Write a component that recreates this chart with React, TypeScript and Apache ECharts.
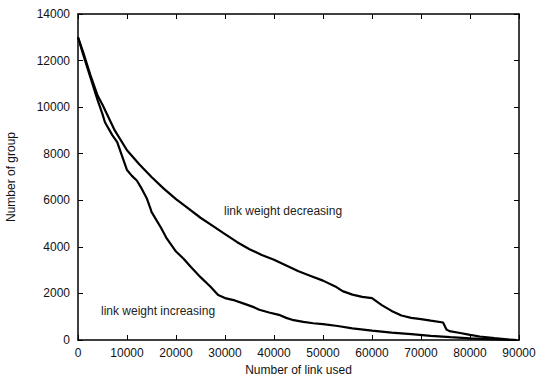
import React, { useEffect, useRef } from "react";
import * as echarts from "echarts";

const xTicks = [0, 10000, 20000, 30000, 40000, 50000, 60000, 70000, 80000, 90000];
const yTicks = [0, 2000, 4000, 6000, 8000, 10000, 12000, 14000];

const decX = [0, 1000, 2500, 4000, 5000, 7500, 10000, 12500, 15000, 17500, 20000, 22500, 25000, 27500, 30000, 32500, 35000, 37500, 40000, 42500, 45000, 47500, 50000, 52500, 54000, 56000, 58000, 60000, 61000, 62000, 64000, 66000, 68000, 70000, 72000, 74500, 75200, 75800, 78000, 80000, 82000, 85000, 88000, 89500];
const decY = [13000, 12400, 11400, 10500, 10100, 9000, 8150, 7550, 7000, 6500, 6050, 5650, 5250, 4900, 4550, 4200, 3900, 3650, 3450, 3200, 2950, 2750, 2550, 2300, 2100, 1950, 1850, 1800, 1650, 1500, 1250, 1050, 950, 900, 830, 750, 450, 380, 300, 220, 150, 80, 20, 0];

const incX = [0, 1000, 2500, 4000, 5000, 5500, 7000, 8000, 9000, 10000, 11000, 12000, 13000, 14000, 14700, 15000, 16000, 17000, 18000, 19000, 20000, 21500, 23000, 25000, 27000, 28600, 30000, 32000, 34000, 36000, 37000, 39000, 41000, 42500, 44000, 46000, 48000, 50000, 53000, 56000, 60000, 64000, 68000, 72000, 76000, 80000, 84000, 87000, 89500];
const incY = [13000, 12300, 11300, 10300, 9700, 9350, 8800, 8500, 7900, 7300, 7050, 6850, 6500, 6100, 5700, 5500, 5150, 4800, 4400, 4100, 3800, 3500, 3150, 2700, 2300, 1930, 1800, 1700, 1550, 1400, 1300, 1180, 1080, 950, 850, 780, 720, 680, 600, 500, 400, 320, 250, 180, 120, 70, 35, 10, 0];

const labelDec = "link weight decreasing";
const labelInc = "link weight increasing";
const xName = "Number of link used";
const yName = "Number of group";

export default function App() {
  const ref = useRef<HTMLDivElement>(null);
  useEffect(() => {
    if (!ref.current) return;
    const chart = echarts.init(ref.current, null, { renderer: "svg" });
    const font = "Liberation Sans, Arial, Helvetica, sans-serif";
    const axisCommon = {
      type: "value" as const,
      axisLine: { show: true, onZero: false, lineStyle: { color: "#000", width: 1.5 } },
      axisTick: { show: true, inside: true, length: 5, lineStyle: { color: "#000", width: 1 } },
      splitLine: { show: false },
    };
    const fmt = (v: number) => String(v);
    chart.setOption({
      animation: false,
      backgroundColor: "#fff",
      grid: { left: 78, top: 14, right: 18, bottom: 37, containLabel: false, outerBoundsMode: "none" },
      xAxis: [
        {
          ...axisCommon,
          position: "bottom",
          min: 0,
          max: 90000,
          interval: 10000,
          axisLabel: { color: "#111", fontFamily: font, fontSize: 12, margin: 7, formatter: fmt },
          name: xName,
          nameLocation: "middle",
          nameGap: 23,
          nameTextStyle: { color: "#111", fontFamily: font, fontSize: 12 },
        },
        {
          ...axisCommon,
          position: "top",
          min: 0,
          max: 90000,
          interval: 10000,
          axisLabel: { show: false },
        },
      ],
      yAxis: [
        {
          ...axisCommon,
          position: "left",
          min: 0,
          max: 14000,
          interval: 2000,
          axisLabel: { color: "#111", fontFamily: font, fontSize: 12, margin: 8, formatter: fmt },
          name: yName,
          nameLocation: "middle",
          nameGap: 61,
          nameTextStyle: { color: "#111", fontFamily: font, fontSize: 12 },
        },
        {
          ...axisCommon,
          position: "right",
          min: 0,
          max: 14000,
          interval: 2000,
          axisLabel: { show: false },
        },
      ],
      series: [
        {
          type: "line",
          data: decX.map((x, i) => [x, decY[i]]),
          showSymbol: false,
          lineStyle: { color: "#000", width: 2.2 },
          z: 3,
        },
        {
          type: "line",
          data: incX.map((x, i) => [x, incY[i]]),
          showSymbol: false,
          lineStyle: { color: "#000", width: 2.2 },
          z: 3,
        },
      ],
      graphic: [
        {
          type: "text",
          left: 224,
          top: 205,
          style: { text: labelDec, fill: "#222", font: `12px ${font}` },
        },
        {
          type: "text",
          left: 101,
          top: 305,
          style: { text: labelInc, fill: "#222", font: `12px ${font}` },
        },
      ],
    });
    return () => chart.dispose();
  }, []);
  return (
    <div
      ref={ref}
      style={{ position: "fixed", left: 0, top: 0, width: 537, height: 377 }}
    />
  );
}
